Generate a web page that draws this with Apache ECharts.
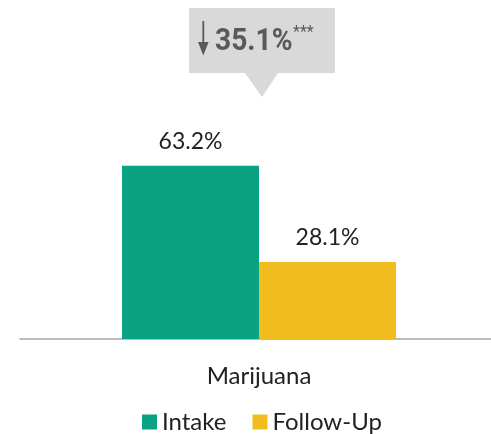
<!DOCTYPE html>
<html>
<head>
<meta charset="utf-8">
<script src="https://cdn.jsdelivr.net/npm/echarts@6/dist/echarts.min.js"></script>
<style>
  html, body { margin: 0; padding: 0; background: #fff; }
  #chart { width: 491px; height: 434px; }
</style>
</head>
<body>
<div id="chart"></div>
<script>
// Share of participants reporting marijuana use
const categories = ['Marijuana'];
const seriesNames = ['Intake', 'Follow-Up'];
const intakeValues = [63.2];
const followUpValues = [28.1];
const significance = '***';

const colors = ['#09A384', '#F0BC1E'];
const fontFamily = 'Lato, "Noto Sans", sans-serif';
const calloutGray = '#595959';

// Change from intake to follow-up, in percentage points
const change = (intakeValues[0] - followUpValues[0]).toFixed(1);

const chart = echarts.init(document.getElementById('chart'), null, { renderer: 'canvas' });

const labelStyle = {
  show: true,
  position: 'top',
  distance: 13,
  color: '#222',
  fontSize: 23,
  fontFamily: fontFamily,
  formatter: p => p.value.toFixed(1) + '%'
};

chart.setOption({
  animation: false,
  color: colors,
  grid: { left: 20, width: 478, top: 65, bottom: 95, outerBoundsMode: 'none', containLabel: false },
  xAxis: {
    type: 'category',
    data: categories,
    axisLine: { lineStyle: { color: '#a6a6a6', width: 1.5 } },
    axisTick: { show: false },
    axisLabel: { color: '#222', fontSize: 24, fontFamily: fontFamily, margin: 25 }
  },
  yAxis: {
    type: 'value',
    min: 0,
    max: 100,
    show: false,
    splitLine: { show: false }
  },
  legend: {
    top: 405,
    left: 137,
    itemWidth: 15,
    itemHeight: 15,
    itemGap: 26,
    icon: 'rect',
    textStyle: { color: '#222', fontSize: 24, fontFamily: fontFamily, padding: [2, 0, 0, 0] },
    data: seriesNames
  },
  series: [
    {
      name: seriesNames[0],
      type: 'bar',
      data: intakeValues,
      barWidth: 137,
      barGap: '0%',
      label: labelStyle
    },
    {
      name: seriesNames[1],
      type: 'bar',
      data: followUpValues,
      barWidth: 137,
      barGap: '0%',
      label: labelStyle
    }
  ],
  graphic: [
    {
      type: 'group',
      left: 189,
      top: 8,
      children: [
        {
          type: 'polygon',
          shape: { points: [[0, 0], [146, 0], [146, 65], [89, 65], [73, 89], [56, 65], [0, 65]] },
          style: { fill: '#d9d9d9' }
        },
        // down arrow: stem and head
        {
          type: 'line',
          shape: { x1: 14.3, y1: 13, x2: 14.3, y2: 40 },
          style: { stroke: calloutGray, lineWidth: 1.8 }
        },
        {
          type: 'polygon',
          shape: { points: [[9, 34], [19.6, 34], [14.3, 47.5]] },
          style: { fill: calloutGray }
        },
        {
          type: 'text',
          x: 26,
          y: 34,
          scaleX: 0.88,
          style: {
            text: change + '%',
            fontSize: 32,
            fontWeight: 'bold',
            fontFamily: 'Roboto, sans-serif',
            fill: calloutGray,
            verticalAlign: 'middle'
          }
        },
        {
          type: 'text',
          x: 104,
          y: 25,
          style: {
            text: significance,
            fontSize: 16,
            fontFamily: 'Roboto, sans-serif',
            fill: calloutGray,
            verticalAlign: 'middle'
          }
        }
      ]
    }
  ]
});
</script>
</body>
</html>
